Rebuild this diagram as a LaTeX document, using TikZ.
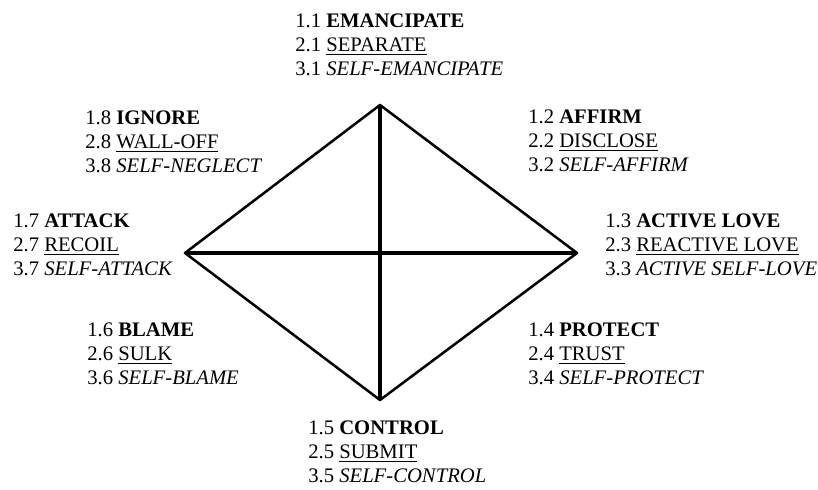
\documentclass[tikz,border=0pt]{standalone}
\usepackage{fontspec}
\setmainfont{Liberation Serif}
\usetikzlibrary{positioning}

\begin{document}
\begin{tikzpicture}[x=0.025cm,y=-0.025cm,
  role/.style={anchor=base west,align=left,inner sep=0pt,
    font=\fontsize{14.7}{17.07}\selectfont}]
\useasboundingbox (0,0) rectangle (818,490);
% corners of the diamond
\coordinate (top) at (380,105);
\coordinate (right) at (577,253);
\coordinate (bottom) at (380,400);
\coordinate (left) at (185,253);
\draw [line width = 1.8pt, line join = round] (top) -- (right) -- (bottom) -- (left) -- cycle;
\draw [line width = 2.5pt] (left) -- (right);
\draw [line width = 2.5pt] (top) -- (bottom);
% the eight labels (placed at the baseline of their last line)
\draw (295,76) node[role] (emancipate) {1.1 \textbf{EMANCIPATE}\\2.1 \underline{SEPARATE}\\3.1 \textit{SELF-EMANCIPATE}};
\draw (528,172) node[role] (affirm) {1.2 \textbf{AFFIRM}\\2.2 \underline{DISCLOSE}\\3.2 \textit{SELF-AFFIRM}};
\draw (605,276) node[role] (activelove) {1.3 \textbf{ACTIVE LOVE}\\2.3 \underline{REACTIVE LOVE}\\3.3 \textit{ACTIVE SELF-LOVE}};
\draw (528,385) node[role] (protect) {1.4 \textbf{PROTECT}\\2.4 \underline{TRUST}\\3.4 \textit{SELF-PROTECT}};
\draw (308,483) node[role] (control) {1.5 \textbf{CONTROL}\\2.5 \underline{SUBMIT}\\3.5 \textit{SELF-CONTROL}};
\draw (87,385) node[role] (blame) {1.6 \textbf{BLAME}\\2.6 \underline{SULK}\\3.6 \textit{SELF-BLAME}};
\draw (13,276) node[role] (attack) {1.7 \textbf{ATTACK}\\2.7 \underline{RECOIL}\\3.7 \textit{SELF-ATTACK}};
\draw (85,173) node[role] (ignore) {1.8 \textbf{IGNORE}\\2.8 \underline{WALL-OFF}\\3.8 \textit{SELF-NEGLECT}};
\end{tikzpicture}
\end{document}
